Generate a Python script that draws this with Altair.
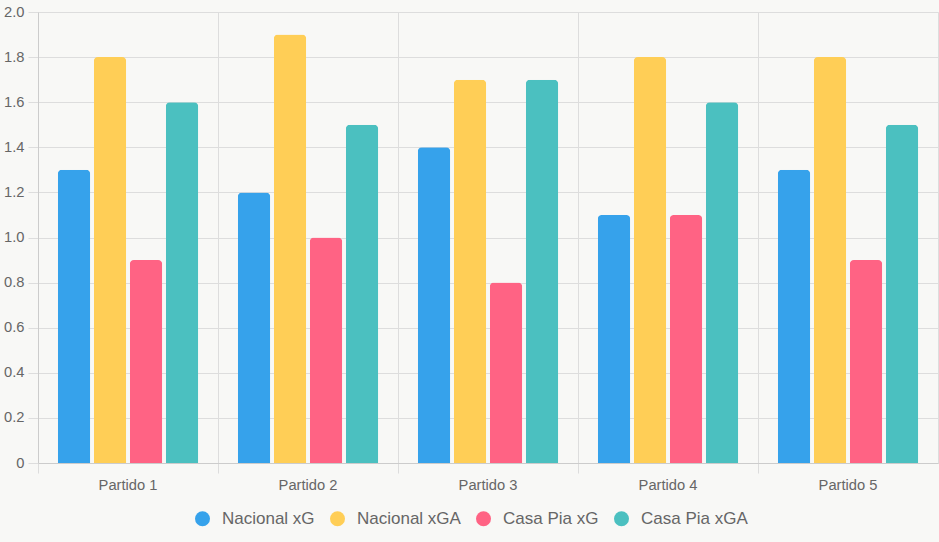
import altair as alt
import pandas as pd

# Matches and series
partidos = ["Partido 1", "Partido 2", "Partido 3", "Partido 4", "Partido 5"]
series = ["Nacional xG", "Nacional xGA", "Casa Pia xG", "Casa Pia xGA"]
colores = ["#36A2EB", "#FFCE56", "#FF6384", "#4BC0C0"]

nacional_xg = [1.3, 1.2, 1.4, 1.1, 1.3]
nacional_xga = [1.8, 1.9, 1.7, 1.8, 1.8]
casa_pia_xg = [0.9, 1.0, 0.8, 1.1, 0.9]
casa_pia_xga = [1.6, 1.5, 1.7, 1.6, 1.5]

y_ticks = [0, 0.2, 0.4, 0.6, 0.8, 1.0, 1.2, 1.4, 1.6, 1.8, 2.0]

rows = []
for nombre, valores in zip(series, [nacional_xg, nacional_xga, casa_pia_xg, casa_pia_xga]):
    for partido, v in zip(partidos, valores):
        rows.append({"partido": partido, "serie": nombre, "valor": v})
df = pd.DataFrame(rows)

FONT = "Liberation Sans"
TXT = "#666666"
GRID = "#dddddd"
AXIS = "#cccccc"

chart = alt.Chart(df).mark_bar(
    cornerRadiusTopLeft=4, cornerRadiusTopRight=4
).encode(
    x=alt.X(
        "partido:N",
        sort=partidos,
        scale=alt.Scale(paddingInner=0, paddingOuter=0),
        axis=alt.Axis(
            title=None, labelAngle=0, bandPosition=0,
            grid=True, gridColor=GRID, ticks=True, tickSize=10, tickColor=GRID,
            domain=True, domainColor=AXIS, labelFont=FONT, labelFontSize=14.7,
            labelColor=TXT, labelPadding=4,
        ),
    ),
    xOffset=alt.XOffset(
        "serie:N", sort=series, scale=alt.Scale(paddingInner=0.1, paddingOuter=0.55)
    ),
    y=alt.Y(
        "valor:Q",
        scale=alt.Scale(domain=[0, 2], nice=False),
        axis=alt.Axis(
            title=None, values=y_ticks,
            labelExpr="datum.value == 0 ? '0' : format(datum.value, '.1f')",
            grid=True, gridColor=GRID, ticks=True, tickSize=10, tickColor=GRID,
            domain=True, domainColor=AXIS, labelFont=FONT, labelFontSize=14.7,
            labelColor=TXT, labelPadding=4,
        ),
    ),
    color=alt.Color(
        "serie:N",
        sort=series,
        scale=alt.Scale(domain=series, range=colores),
        legend=alt.Legend(
            title=None, orient="none", direction="horizontal",
            legendX=156, legendY=498, symbolType="circle", symbolSize=225,
            symbolStrokeWidth=0, labelFont=FONT, labelFontSize=17,
            labelColor=TXT, columnPadding=14, labelOffset=11,
        ),
    ),
).properties(
    width=900, height=451,
    background="#f8f8f6",
    padding={"left": 38, "top": 12, "right": 1, "bottom": 79},
    autosize=alt.AutoSizeParams(type="none"),
).configure_view(stroke=GRID)

chart.save("out.html", embed_options={"renderer": "svg", "actions": False})
